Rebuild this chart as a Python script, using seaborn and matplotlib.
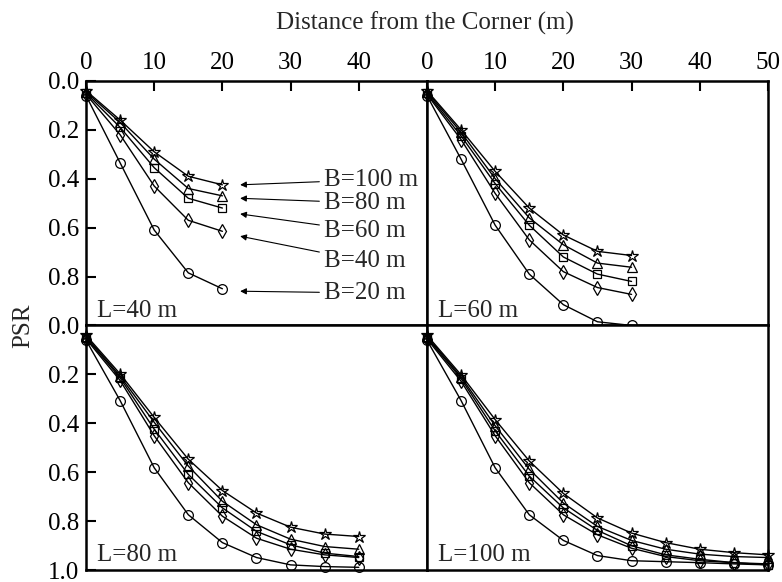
import matplotlib
matplotlib.use("Agg")
import matplotlib.pyplot as plt
import seaborn as sns
import pandas as pd

# Distance from the corner (m) sampled every 5 m, per wall length L
x_L40 = [0, 5, 10, 15, 20]
x_L60 = [0, 5, 10, 15, 20, 25, 30]
x_L80 = [0, 5, 10, 15, 20, 25, 30, 35, 40]
x_L100 = [0, 5, 10, 15, 20, 25, 30, 35, 40, 45, 50]

# PSR values for each excavation width B
psr_L40 = {
    100: [0.04, 0.16, 0.29, 0.39, 0.425],
    80: [0.045, 0.17, 0.32, 0.44, 0.47],
    60: [0.05, 0.19, 0.355, 0.48, 0.52],
    40: [0.055, 0.22, 0.43, 0.57, 0.615],
    20: [0.06, 0.335, 0.61, 0.785, 0.85],
}
psr_L60 = {
    100: [0.04, 0.20, 0.37, 0.52, 0.63, 0.697, 0.714],
    80: [0.045, 0.21, 0.40, 0.56, 0.67, 0.745, 0.762],
    60: [0.05, 0.225, 0.42, 0.59, 0.72, 0.79, 0.82],
    40: [0.055, 0.24, 0.46, 0.65, 0.78, 0.845, 0.873],
    20: [0.06, 0.32, 0.59, 0.79, 0.915, 0.985, 1.0],
}
psr_L80 = {
    100: [0.04, 0.198, 0.376, 0.547, 0.675, 0.767, 0.825, 0.853, 0.863],
    80: [0.045, 0.207, 0.396, 0.575, 0.719, 0.815, 0.874, 0.904, 0.915],
    60: [0.05, 0.214, 0.424, 0.609, 0.746, 0.842, 0.897, 0.931, 0.945],
    40: [0.055, 0.225, 0.451, 0.643, 0.78, 0.87, 0.915, 0.938, 0.949],
    20: [0.06, 0.307, 0.582, 0.774, 0.888, 0.949, 0.979, 0.986, 0.989],
}
psr_L100 = {
    100: [0.04, 0.202, 0.385, 0.554, 0.687, 0.787, 0.849, 0.888, 0.915, 0.929, 0.938],
    80: [0.045, 0.21, 0.41, 0.588, 0.726, 0.822, 0.879, 0.915, 0.935, 0.945, 0.949],
    60: [0.05, 0.217, 0.431, 0.616, 0.746, 0.838, 0.901, 0.938, 0.956, 0.97, 0.979],
    40: [0.055, 0.228, 0.451, 0.643, 0.774, 0.856, 0.911, 0.945, 0.962, 0.97, 0.975],
    20: [0.06, 0.307, 0.582, 0.774, 0.879, 0.941, 0.962, 0.966, 0.97, 0.975, 0.979],
}

widths = [100, 80, 60, 40, 20]
width_labels = ["B=100 m", "B=80 m", "B=60 m", "B=40 m", "B=20 m"]
marker_map = {100: "*", 80: "^", 60: "s", 40: "d", 20: "o"}
marker_size = {100: 9, 80: 6.5, 60: 6, 40: 7, 20: 7}

# Label positions and arrow targets for the B callouts (first panel)
label_y = [0.404, 0.499, 0.615, 0.737, 0.867]
arrow_y = [0.425, 0.48, 0.544, 0.635, 0.86]

panels = [
    ("L=40 m", x_L40, psr_L40),
    ("L=60 m", x_L60, psr_L60),
    ("L=80 m", x_L80, psr_L80),
    ("L=100 m", x_L100, psr_L100),
]

FS = 18

sns.set_theme(style="ticks")
plt.rcParams["font.family"] = ["Liberation Serif", "DejaVu Serif"]
plt.rcParams["font.size"] = FS

fig, axes = plt.subplots(2, 2, figsize=(7.82, 5.82), dpi=100,
                         gridspec_kw=dict(hspace=0, wspace=0))
fig.subplots_adjust(left=0.110, right=0.982, top=0.861, bottom=0.0206)

for idx, (ax, (title, xs, psr)) in enumerate(zip(axes.flat, panels)):
    rows = []
    for b in widths:
        for xv, yv in zip(xs, psr[b]):
            rows.append({"x": xv, "psr": yv, "B": b})
    df = pd.DataFrame(rows)
    for b in widths:
        sub = df[df["B"] == b]
        sns.lineplot(data=sub, x="x", y="psr", ax=ax, color="black",
                     lw=1.0, marker=marker_map[b], markersize=marker_size[b],
                     markerfacecolor="none", markeredgecolor="black",
                     markeredgewidth=0.9, clip_on=False, legend=False,
                     estimator=None, sort=False)

    ax.set_xlim(0, 50)
    ax.set_ylim(1.0, 0.0)
    ax.set_xlabel("")
    ax.set_ylabel("")
    for sp in ax.spines.values():
        sp.set_visible(True)
        sp.set_linewidth(1.8)
        sp.set_color("black")

    row, col = divmod(idx, 2)
    ax.tick_params(direction="in", length=7, width=1.5, colors="black",
                   labelsize=FS, pad=5)
    if row == 0:
        ax.xaxis.tick_top()
        if col == 0:
            ax.set_xticks([0, 10, 20, 30, 40])
        else:
            ax.set_xticks([0, 10, 20, 30, 40, 50])
    else:
        ax.set_xticks([])
    if col == 0:
        if row == 0:
            ax.set_yticks([0.0, 0.2, 0.4, 0.6, 0.8])
        else:
            ax.set_yticks([0.0, 0.2, 0.4, 0.6, 0.8, 1.0])
        ax.set_yticklabels([f"{t:.1f}" for t in ax.get_yticks()])
    else:
        ax.set_yticks([])

    ax.text(1.6, 0.94, title, fontsize=FS, ha="left", va="center")

# B callouts with arrows in the L=40 m panel
ax0 = axes[0, 0]
for lab, ly, ay in zip(width_labels, label_y, arrow_y):
    ax0.annotate(lab, xy=(22.6, ay), xytext=(34.9, ly), fontsize=FS,
                 ha="left", va="center",
                 arrowprops=dict(arrowstyle="-|>", color="black", lw=0.8,
                                 mutation_scale=9, shrinkA=1, shrinkB=0))

fig.text(0.543, 0.960, "Distance from the Corner (m)", ha="center",
         va="center", fontsize=FS)
fig.text(0.03, 0.44, "PSR", ha="center", va="center", rotation=90,
         fontsize=FS)

fig.savefig("out.png", dpi=100)
